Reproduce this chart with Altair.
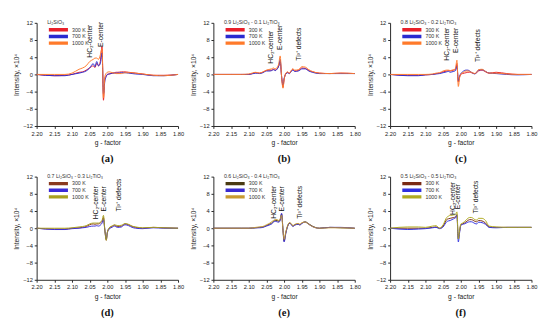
import altair as alt
import pandas as pd

G = [2.20, 2.15, 2.12, 2.10, 2.08, 2.07, 2.06, 2.05, 2.04, 2.035, 2.03, 2.025, 2.02, 2.015,
     2.011, 2.007, 2.003, 2.0, 1.995, 1.99, 1.985, 1.98, 1.975, 1.97, 1.96, 1.955, 1.95,
     1.94, 1.93, 1.92, 1.90, 1.87, 1.84, 1.80]
TEMPS = ["300 K", "700 K", "1000 K"]
XT = [2.20, 2.15, 2.10, 2.05, 2.00, 1.95, 1.90, 1.85, 1.80]
YT = [-12, -8, -4, 0, 4, 8, 12]

A_300 = [0, -0.3, -0.2, 0, 0.5, 0.6, 1.0, 1.5, 2.0, 1.6, 2.6, 2.0, 3.0, 6.5, -6.0, -1.0, -0.3, 0, 0.1, 0.2, 0.3, 0.4, 0.5, 0.5, 0.6, 0.6, 0.6, 0.5, 0.4, 0.3, 0.1, -0.2, -0.2, 0]
A_700 = [0, -0.3, -0.3, 0, 0.3, 0.5, 0.8, 1.5, 2.5, 1.8, 3.0, 2.0, 2.5, 5.0, -4.5, -1.5, -0.5, 0, 0.1, 0.2, 0.3, 0.3, 0.3, 0.3, 0.4, 0.4, 0.4, 0.3, 0.2, 0.1, 0, -0.3, -0.3, 0]
A_1000 = [0, 0, 0, 0.3, 1.2, 1.5, 2.0, 3.0, 3.5, 3.8, 3.8, 3.5, 4.5, 6.0, -5.5, -0.5, 0.3, 0.5, 0.6, 0.5, 0.4, 0.3, 0.2, 0.2, 0.2, 0.3, 0.4, 0.4, 0.4, 0.3, 0.1, -0.2, -0.3, 0]

B_300 = [0, 0, 0, 0, 0.4, 0.3, 0.5, 0.9, 1.0, 1.0, 1.2, 1.0, 1.3, 2.0, 3.0, -0.5, -3.0, -1.2, 0.2, 0.5, 0.2, 0.8, 1.2, 0.8, 0.9, 1.2, 1.5, 1.4, 0.9, 0.6, 0.3, 0.2, 0.3, 0.2]
B_700 = [0, 0, 0, 0, 0.3, 0.2, 0.4, 0.8, 0.8, 0.9, 1.1, 0.9, 1.2, 2.0, 3.5, -0.5, -2.5, -1.0, 0.1, 0.4, 0.2, 0.7, 1.0, 0.7, 0.8, 1.0, 1.3, 1.3, 0.8, 0.5, 0.2, 0.2, 0.2, 0.2]
B_1000 = [0, 0, 0, 0.1, 0.5, 0.3, 0.6, 1.0, 1.2, 1.3, 1.5, 1.3, 1.6, 2.5, 4.3, -0.5, -3.2, -1.3, 0.3, 0.6, 0.3, 0.9, 1.3, 1.0, 1.1, 1.4, 1.8, 1.7, 1.1, 0.7, 0.3, 0.2, 0.3, 0.2]

C_300 = [0, -0.2, -0.2, -0.1, 0, 0.2, 0.3, 0.6, 0.8, 0.9, 0.8, 0.9, 1.0, 1.2, 2.5, -1.8, -0.5, 0, 0.2, 0.3, 0.4, 0.5, 0.5, 0.4, 0.2, 0.4, 0.8, 1.0, 0.6, 0.3, 0.5, 0.2, 0, 0]
C_700 = [0, -0.3, -0.3, -0.1, 0, 0.1, 0.2, 0.4, 0.6, 0.7, 0.5, 0.6, 0.7, 0.9, 2.0, -1.5, -0.3, 0.2, 0.6, 0.9, 1.0, 1.0, 0.8, 0.5, 0.1, 0.5, 1.0, 1.1, 0.7, 0.3, 0.2, 0, -0.1, 0]
C_1000 = [0, 0, 0, 0, 0.1, 0.3, 0.4, 0.8, 1.0, 1.0, 0.9, 1.0, 1.1, 1.4, 3.3, -2.8, -0.6, 0.1, 0.4, 0.6, 0.8, 0.8, 0.7, 0.5, 0.2, 0.6, 1.1, 1.2, 0.7, 0.3, 0.3, 0.1, 0, 0]

D_300 = [0, -0.2, -0.2, 0, 0.1, 0.2, 0.4, 0.8, 1.0, 0.9, 1.0, 1.0, 1.2, 1.6, 2.5, -0.5, -2.8, -1.0, 0, 0.3, 0.5, 0.7, 0.5, 0.4, 0.5, 0.8, 1.0, 0.8, 0.4, 0.2, 0, 0.2, 0.1, 0]
D_700 = [0, -0.3, -0.3, -0.1, 0, 0.1, 0.2, 0.4, 0.5, 0.5, 0.6, 0.5, 0.7, 1.2, 2.0, -0.5, -2.5, -1.0, -0.2, 0.1, 0.3, 0.5, 0.3, 0.2, 0.3, 0.6, 0.8, 0.6, 0.2, 0, -0.1, 0.1, 0, 0]
D_1000 = [0, 0, 0, 0.1, 0.3, 0.4, 0.6, 1.0, 1.2, 1.2, 1.2, 1.2, 1.4, 1.8, 3.0, -0.5, -2.8, -1.0, 0.1, 0.4, 0.6, 0.8, 0.7, 0.6, 0.7, 0.9, 1.1, 0.9, 0.5, 0.3, 0.1, 0.2, 0.1, 0]

E_300 = [0, 0, 0, 0, 0.1, 0.2, 0.3, 0.6, 1.0, 1.2, 1.6, 1.8, 1.8, 1.6, 2.0, 3.3, -0.5, -3.0, -1.0, 0.5, 1.2, 1.0, 0.5, 0.8, 1.0, 0.8, 1.2, 1.5, 1.0, 0.5, 0, 0.2, 0.1, 0]
E_700 = [0, 0, 0, 0, 0.1, 0.1, 0.2, 0.5, 0.8, 1.0, 1.4, 1.6, 1.5, 1.4, 1.8, 3.5, -0.5, -3.2, -1.2, 0.4, 1.1, 0.9, 0.4, 0.7, 0.9, 0.7, 1.1, 1.4, 0.9, 0.4, 0, 0.2, 0.2, 0]
E_1000 = [0, 0, 0, 0, 0.2, 0.3, 0.4, 0.8, 1.2, 1.5, 1.8, 2.0, 2.0, 1.8, 2.2, 3.0, -0.5, -2.6, -0.8, 0.6, 1.3, 1.1, 0.6, 0.9, 1.1, 0.9, 1.3, 1.4, 0.9, 0.4, 0, 0.1, 0.1, 0]

F_300 = [0, 0, 0, 0, 0.2, 0.3, 0, 0.5, 2.0, 2.2, 2.3, 2.4, 2.5, 2.6, 3.2, -2.5, -0.5, 0.8, 1.0, 1.2, 1.5, 1.8, 2.0, 2.0, 1.6, 1.5, 1.8, 1.7, 1.2, 0.3, 0.2, 0.2, 0.2, 0.2]
F_700 = [0, -0.3, -0.2, -0.1, 0.1, 0.2, -0.1, 0.3, 1.5, 1.7, 1.8, 2.0, 2.2, 2.4, 3.0, -3.2, -0.8, 0.6, 0.9, 1.0, 1.2, 1.4, 1.5, 1.5, 1.1, 1.0, 1.4, 1.3, 0.9, 0.2, 0.1, 0.2, 0.2, 0.2]
F_1000 = [0, 0.3, 0.3, 0.2, 0.5, 0.6, 0, 0.8, 2.5, 2.8, 3.0, 3.0, 3.1, 3.2, 3.8, -2.5, -0.3, 1.0, 1.2, 1.5, 1.9, 2.3, 2.5, 2.5, 2.0, 1.9, 2.3, 2.3, 1.8, 0.5, 0.3, 0.2, 0.2, 0.2]

COMP = ["Li₂SiO₃",
        "0.9 Li₂SiO₃ - 0.1 Li₂TiO₃",
        "0.8 Li₂SiO₃ - 0.2 Li₂TiO₃",
        "0.7 Li₂SiO₃ - 0.3 Li₂TiO₃",
        "0.6 Li₂SiO₃ - 0.4 Li₂TiO₃",
        "0.5 Li₂SiO₃ - 0.5 Li₂TiO₃"]
TAGS = ["(a)", "(b)", "(c)", "(d)", "(e)", "(f)"]
PAL1 = ["#e8202a", "#2a2ad0", "#ff7a2a"]
PAL_D = ["#8a3a20", "#3a2ad8", "#a8a020"]
PAL_E = ["#4a3a12", "#3a2ad0", "#c89a30"]
PAL_F = ["#7a2a14", "#3030e0", "#b0aa20"]

ANN_LABELS = ["HC₂-center", "E-center", "Ti³⁺ defects"]
ANN_A = ([2.050, 2.017], [3.9, 6.4])
ANN_B = ([2.037, 2.012, 1.957], [2.5, 5.7, 3.2])
ANN_C = ([2.038, 2.012, 1.950], [3.2, 5.0, 2.9])
ANN_D = ([2.033, 2.010, 1.966], [2.1, 3.9, 3.9])
ANN_E = ([2.027, 2.007, 1.955], [2.2, 3.9, 2.2])
ANN_F = ([2.022, 2.009, 1.958], [3.1, 4.4, 3.4])

W, H = 148, 108


def panel(i, s300, s700, s1000, pal, ann):
    n = len(G)
    df = pd.DataFrame({
        "g": G * 3,
        "I": s300 + s700 + s1000,
        "T": [TEMPS[0]] * n + [TEMPS[1]] * n + [TEMPS[2]] * n,
    })
    ng = len(ann[0])
    adf = pd.DataFrame({"g": ann[0], "I": ann[1], "label": ANN_LABELS[:ng]})
    xaxis = alt.Axis(values=XT, format=".2f", title="g - factor", labelOverlap=False,
                     labelFlush=False, labelBound=False)
    yaxis = alt.Axis(values=YT, title="Intensity, ×10⁴", labelOverlap=False,
                     labelFlush=False, labelBound=False)
    xsc = alt.Scale(domain=[1.80, 2.20], reverse=True, nice=False)
    ysc = alt.Scale(domain=[-12, 12], nice=False)
    lines = alt.Chart(df).mark_line(strokeWidth=1, interpolate="monotone").encode(
        x=alt.X("g:Q", scale=xsc, axis=xaxis),
        y=alt.Y("I:Q", scale=ysc, axis=yaxis),
        color=alt.Color("T:N", scale=alt.Scale(domain=TEMPS, range=pal),
                        legend=alt.Legend(title=COMP[i], orient="none", legendX=11, legendY=-3,
                                          symbolType="M-1,0H6.3", symbolStrokeWidth=3.5,
                                          symbolSize=30, labelFontSize=5.5, clipHeight=5.5,
                                          titleFontSize=5.5, titleFontWeight="normal",
                                          rowPadding=0, labelOffset=17, titlePadding=2,
                                          padding=0, labelLimit=60, titleLimit=150)),
        order=alt.Order("T:N"),
    )
    texts = alt.Chart(adf).mark_text(angle=270, align="left", baseline="middle",
                                     fontSize=7, font="Liberation Sans", color="#111").encode(
        x=alt.X("g:Q", scale=xsc, axis=xaxis),
        y=alt.Y("I:Q", scale=ysc, axis=yaxis),
        text="label:N")
    return alt.layer(lines, texts).properties(
        width=W, height=H,
        title=alt.TitleParams(TAGS[i], orient="bottom", font="Liberation Serif",
                              fontSize=11, fontWeight="bold", offset=8, color="#111"))


pa = panel(0, A_300, A_700, A_1000, PAL1, ANN_A)
pb = panel(1, B_300, B_700, B_1000, PAL1, ANN_B)
pc = panel(2, C_300, C_700, C_1000, PAL1, ANN_C)
pd_ = panel(3, D_300, D_700, D_1000, PAL_D, ANN_D)
pe = panel(4, E_300, E_700, E_1000, PAL_E, ANN_E)
pf = panel(5, F_300, F_700, F_1000, PAL_F, ANN_F)

row1 = alt.hconcat(pa, pb, pc, spacing=6).resolve_scale(color="independent").resolve_legend(color="independent")
row2 = alt.hconcat(pd_, pe, pf, spacing=6).resolve_scale(color="independent").resolve_legend(color="independent")

chart = alt.vconcat(row1, row2, spacing=10).resolve_scale(color="independent").resolve_legend(
    color="independent"
).configure_axis(
    labelFontSize=6, titleFontSize=7, titleFontWeight="normal", labelFont="Liberation Sans",
    titleFont="Liberation Sans", grid=False, domainColor="#222", tickColor="#222",
    labelColor="#222", titleColor="#222", tickSize=2.5, titlePadding=3, labelPadding=2,
).configure_view(stroke=None).configure_legend(labelFont="Liberation Sans", titleFont="Liberation Sans",
                                                labelColor="#333", titleColor="#333")

chart.save("out.html", embed_options={"renderer": "svg", "actions": False})
